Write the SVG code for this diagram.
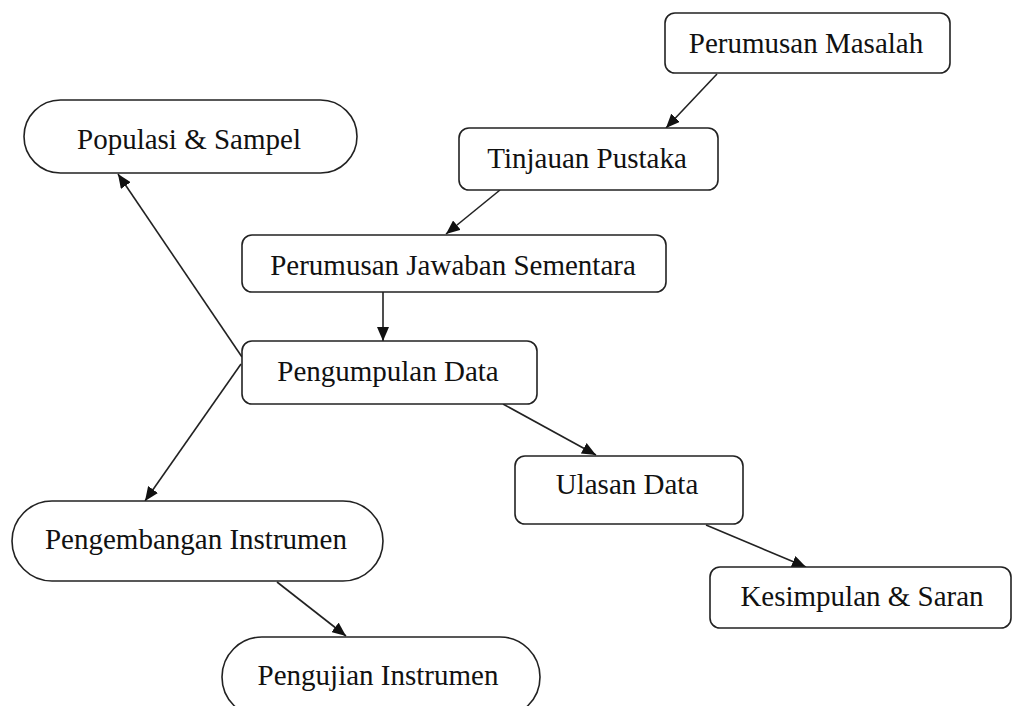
<svg xmlns="http://www.w3.org/2000/svg" width="1013" height="706" viewBox="0 0 1013 706">
<style>
.box{fill:#fff;stroke:#222;stroke-width:1.6}
.t{font-family:"Liberation Serif","Times New Roman",serif;font-size:29px;fill:#111;text-anchor:middle}
.c{stroke:#222;stroke-width:1.6;fill:none;marker-end:url(#ah)}
</style>
<defs>
<marker id="ah" viewBox="0 0 14 12" refX="14" refY="6" markerWidth="14" markerHeight="12" markerUnits="userSpaceOnUse" orient="auto">
<path d="M0,0 L14,6 L0,12 Z" fill="#111"/>
</marker>
</defs>
<rect width="1013" height="706" fill="#fff"/>
<g id="connectors">
<line class="c" x1="717" y1="74" x2="666" y2="128"/>
<line class="c" x1="500" y1="190" x2="446" y2="234"/>
<line class="c" x1="383" y1="292" x2="383" y2="341"/>
<line class="c" x1="242" y1="357" x2="118" y2="174"/>
<line class="c" x1="241" y1="364" x2="145" y2="501"/>
<line class="c" x1="503" y1="404" x2="596" y2="455"/>
<line class="c" x1="706" y1="525" x2="806" y2="567"/>
<line class="c" x1="277" y1="582" x2="346" y2="636"/>
</g>
<g id="perumusan-masalah">
<rect class="box" x="665" y="13" width="285" height="60" rx="10"/>
<text class="t" x="806" y="53">Perumusan Masalah</text>
</g>
<g id="tinjauan-pustaka">
<rect class="box" x="459" y="128" width="259" height="62" rx="10"/>
<text class="t" x="587" y="168">Tinjauan Pustaka</text>
</g>
<g id="populasi-sampel">
<rect class="box" x="24" y="100" width="333" height="73" rx="36.5"/>
<text class="t" x="189" y="149">Populasi &amp; Sampel</text>
</g>
<g id="perumusan-jawaban">
<rect class="box" x="242" y="235" width="424" height="57" rx="10"/>
<text class="t" x="453" y="275">Perumusan Jawaban Sementara</text>
</g>
<g id="pengumpulan-data">
<rect class="box" x="242" y="341" width="295" height="63" rx="10"/>
<text class="t" x="388" y="381">Pengumpulan Data</text>
</g>
<g id="ulasan-data">
<rect class="box" x="515" y="456" width="228" height="68" rx="10"/>
<text class="t" x="627" y="494">Ulasan Data</text>
</g>
<g id="pengembangan-instrumen">
<rect class="box" x="12" y="501" width="371" height="80" rx="40"/>
<text class="t" x="196" y="549">Pengembangan Instrumen</text>
</g>
<g id="kesimpulan-saran">
<rect class="box" x="710" y="567" width="301" height="61" rx="10"/>
<text class="t" x="862" y="606">Kesimpulan &amp; Saran</text>
</g>
<g id="pengujian-instrumen">
<rect class="box" x="222" y="637" width="318" height="80" rx="40"/>
<text class="t" x="378" y="685">Pengujian Instrumen</text>
</g>
</svg>
